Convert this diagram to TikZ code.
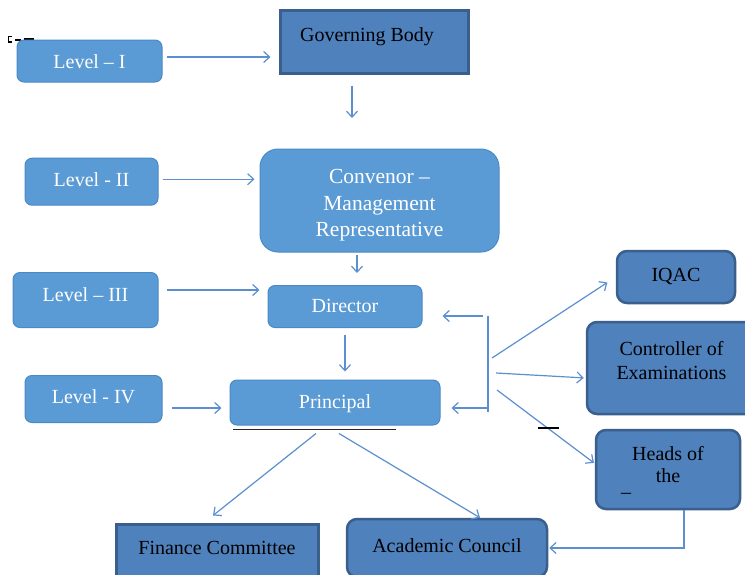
\documentclass[tikz,border=0pt]{standalone}
\usepackage{fontspec}
\setmainfont{Liberation Serif}
\usetikzlibrary{arrows.meta}
\definecolor{lightb}{HTML}{5B9BD5}
\definecolor{lightbd}{HTML}{4A89C6}
\definecolor{darkb}{HTML}{4F81BD}
\definecolor{darkbd}{HTML}{3A5F8C}
\definecolor{arrc}{HTML}{5B8FCF}
\newcommand\bxt[2]{\raisebox{#1}[0pt][0pt]{\begin{tabular}{@{}c@{}}#2\end{tabular}}}
\begin{document}
\begin{tikzpicture}[x=1pt,y=-1pt,
  boxsz/.style 2 args={minimum width=#1pt,minimum height=#2pt},
  lightbox/.style={draw=lightbd,fill=lightb,line width=1pt,rounded corners=7pt,text=white,inner sep=0pt,font=\fontsize{20}{24}\selectfont},
  darkbox/.style={draw=darkbd,fill=darkb,line width=2.5pt,rounded corners=10pt,text=black,inner sep=0pt,font=\fontsize{20}{24}\selectfont},
  sharpbox/.style={darkbox,rounded corners=0pt,line width=3pt},
  arr/.style={draw=arrc,line width=1.2pt,-{Straight Barb[length=6pt,width=11pt]}},
  plainln/.style={draw=arrc,line width=1.2pt},
  inkln/.style={draw=black!85,line width=1.4pt}
]
\fill[white] (0,0) rectangle (745,574);
\useasboundingbox (0,0) rectangle (745,574);

% small stray glyph top-left
\draw[black,line width=1.3pt] (12,36.5) -- (8.5,36.5) -- (8.5,42) -- (12,42);
\draw[black,line width=1.3pt] (15,40) -- (21,40) (24,39) -- (34,39);

% nodes
\node[lightbox,boxsz={145}{42}] (l1) at (89.5,61) {\bxt{-8.3pt}{Level – I}};
\node[sharpbox,boxsz={188}{63}] (gb) at (374,41.5) {\bxt{0pt}{Governing Body\hspace*{14pt}}};
\node[lightbox,boxsz={133}{47}] (l2) at (91.5,181.7) {\bxt{-5.1pt}{Level - II}};
\node[lightbox,rounded corners=18pt,boxsz={239}{103},font=\fontsize{21.5}{26.5}\selectfont] (conv) at (379.5,200.5) {\bxt{-9.7pt}{Convenor –\\Management\\Representative}};
\node[lightbox,boxsz={145}{55}] (l3) at (85.5,300) {\bxt{-1.8pt}{Level – III}};
\node[lightbox,boxsz={154}{42}] (dir) at (345,306.5) {\bxt{-6.8pt}{Director}};
\node[lightbox,boxsz={137}{47}] (l4) at (93.5,399) {\bxt{-4.8pt}{Level - IV}};
\node[lightbox,boxsz={210}{45}] (princ) at (335,402.5) {\bxt{-6.3pt}{Principal}};
\node[darkbox,boxsz={118}{52}] (iqac) at (676,277) {\bxt{-4.8pt}{IQAC}};
\node[darkbox,boxsz={173}{92}] (ctrl) at (673.5,368) {\bxt{-0.3pt}{Controller of\hspace*{4pt}\\Examinations\hspace*{4pt}}};
\node[darkbox,boxsz={144}{79},font=\fontsize{20}{22}\selectfont] (heads) at (668,469.5) {\bxt{-2.8pt}{Heads of\\the}};
\node[inner sep=0pt,font=\fontsize{20}{24}\selectfont] (hdash) at (626,496) {–};
\node[sharpbox,boxsz={202}{56}] (fin) at (217,552) {\bxt{-2.8pt}{Finance Committee}};
\node[darkbox,boxsz={200}{58}] (acad) at (447,548) {\bxt{-4.5pt}{Academic Council}};

% free coordinates
\coordinate (gbd) at (352,118);
\coordinate (cd) at (357,0);
\coordinate (bt) at (488,316);
\coordinate (bb) at (488,412);
\coordinate (bm) at (488,408);
\coordinate (f1) at (492,358);
\coordinate (f2) at (496,373);
\coordinate (f3) at (497,390);

% connectors
\draw[arr,shorten <=4pt,shorten >=8pt] ([yshift=4pt]l1.east) -- ([yshift=4pt]l1.east -| gb.west);
\draw[arr,shorten <=11pt] (gb.south -| gbd) -- (gbd);
\draw[arr,shorten <=4pt,shorten >=5pt] ([yshift=2.5pt]l2.east) -- ([yshift=2.5pt]l2.east -| conv.west);
\draw[arr,shorten <=2pt,shorten >=12pt] (conv.south -| cd) -- (dir.north -| cd);
\draw[arr,shorten <=8pt,shorten >=8pt] ([yshift=10pt]l3.east) -- ([yshift=10pt]l3.east -| dir.west);
\draw[arr,shorten <=7pt,shorten >=8pt] (dir.south) -- (dir.south |- princ.north);
\draw[arr,shorten <=9pt,shorten >=8pt] ([yshift=-9pt]l4.east) -- ([yshift=-9pt]l4.east -| princ.west);
\draw[plainln] (bt) -- (bb);
\draw[arr,shorten <=5pt,shorten >=20pt] (bt) -- (bt -| dir.east);
\draw[arr,shorten >=11pt] (bm) -- (bm -| princ.east);
\draw[arr,shorten >=10pt] (f1) -- (iqac.west);
\draw[arr,shorten >=2pt] (f2) -- ([yshift=-10pt]ctrl.west);
\draw[arr,shorten >=1pt] (f3) -- ([yshift=6pt]heads.west);
\draw[arr] ([xshift=-19pt,yshift=-8pt]princ.south) -- ([xshift=-4pt,yshift=7pt]fin.north);
\draw[arr] ([xshift=4pt,yshift=-8pt]princ.south) -- ([xshift=33pt]acad.north);
\draw[arr,shorten >=1pt] ([xshift=16pt]heads.south) |- (acad.east);

% black rules
\draw[inkln] ([xshift=-102pt,yshift=-4pt]princ.south) -- ([xshift=61pt,yshift=-4pt]princ.south);
\draw[black,line width=1.2pt] (538,428) -- (559,428);
\end{tikzpicture}
\end{document}
